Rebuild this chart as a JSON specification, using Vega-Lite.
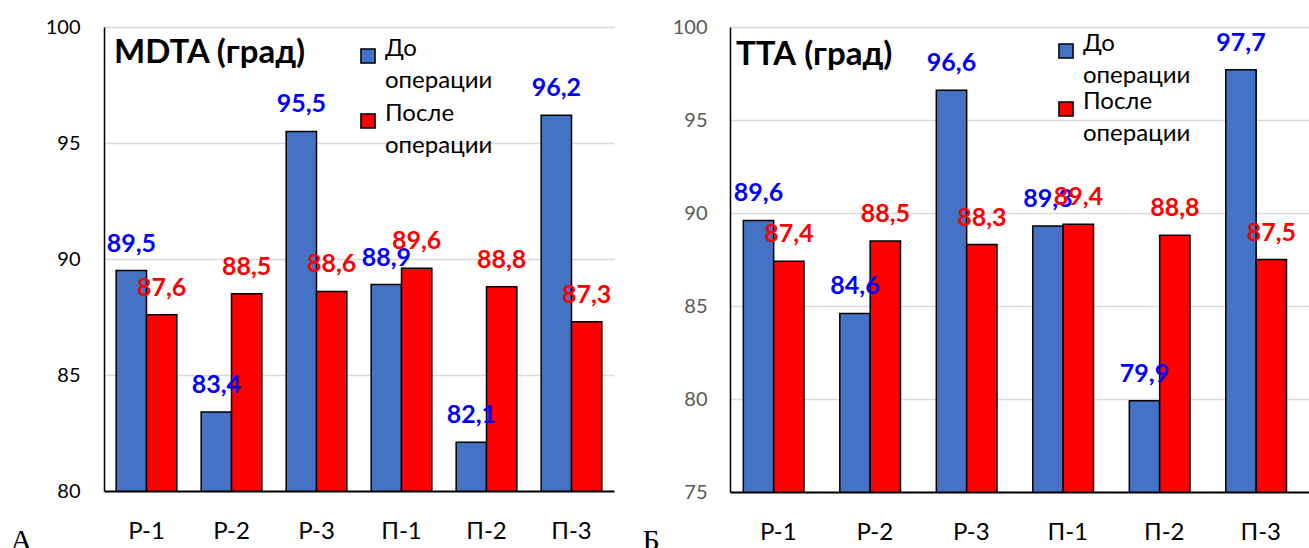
{
  "$schema": "https://vega.github.io/schema/vega-lite/v6.json",
  "padding": {"left": 10, "top": 17, "right": 0, "bottom": 0},
  "background": "white",
  "config": {
    "view": {"stroke": null},
    "locale": {"number": {"decimal": ",", "thousands": " ", "grouping": [3], "currency": ["", ""]}},
    "font": "Lato",
    "concat": {"spacing": 28},
    "style": {"guide-label": {"lineHeight": 32}}
  },
  "datasets": {
    "mdta": [
      {"group": "Р-1", "phase": "До операции", "value": 89.5},
      {"group": "Р-1", "phase": "После операции", "value": 87.6},
      {"group": "Р-2", "phase": "До операции", "value": 83.4},
      {"group": "Р-2", "phase": "После операции", "value": 88.5},
      {"group": "Р-3", "phase": "До операции", "value": 95.5},
      {"group": "Р-3", "phase": "После операции", "value": 88.6},
      {"group": "П-1", "phase": "До операции", "value": 88.9},
      {"group": "П-1", "phase": "После операции", "value": 89.6},
      {"group": "П-2", "phase": "До операции", "value": 82.1},
      {"group": "П-2", "phase": "После операции", "value": 88.8},
      {"group": "П-3", "phase": "До операции", "value": 96.2},
      {"group": "П-3", "phase": "После операции", "value": 87.3}
    ],
    "tta": [
      {"group": "Р-1", "phase": "До операции", "value": 89.6},
      {"group": "Р-1", "phase": "После операции", "value": 87.4},
      {"group": "Р-2", "phase": "До операции", "value": 84.6},
      {"group": "Р-2", "phase": "После операции", "value": 88.5},
      {"group": "Р-3", "phase": "До операции", "value": 96.6},
      {"group": "Р-3", "phase": "После операции", "value": 88.3},
      {"group": "П-1", "phase": "До операции", "value": 89.3},
      {"group": "П-1", "phase": "После операции", "value": 89.4},
      {"group": "П-2", "phase": "До операции", "value": 79.9},
      {"group": "П-2", "phase": "После операции", "value": 88.8},
      {"group": "П-3", "phase": "До операции", "value": 97.7},
      {"group": "П-3", "phase": "После операции", "value": 87.5}
    ]
  },
  "resolve": {
    "scale": {"x": "independent", "y": "independent", "color": "independent"},
    "legend": {"color": "independent"}
  },
  "hconcat": [
    {
      "width": 510,
      "height": 464,
      "title": {"text": "MDTA (град)", "anchor": "start", "frame": "group", "baseline": "alphabetic", "offset": 0, "dy": 79, "dx": 10, "font": "Lato", "fontSize": 33, "fontWeight": "bold", "color": "black"},
      "data": {"name": "mdta"},
      "encoding": {
        "x": {
          "field": "group", "type": "nominal", "sort": null,
          "scale": {"paddingInner": 0.286, "paddingOuter": 0.143},
          "axis": {
            "title": "А", "titleFont": "Liberation Serif", "titleFontSize": 30, "titleFontWeight": "normal",
            "titleColor": "black", "titleAlign": "left", "titleBaseline": "alphabetic", "titleAnchor": "start",
            "titleX": -94, "titleY": 58, "titleAngle": 0,
            "labelAngle": 0, "labelFont": "Lato", "labelFontSize": 24, "labelColor": "black", "labelPadding": 28,
            "ticks": false, "domainColor": "black", "domainWidth": 2, "grid": false, "zindex": 1
          }
        },
        "xOffset": {"field": "phase", "type": "nominal", "sort": ["До операции", "После операции"]},
        "y": {
          "field": "value", "type": "quantitative",
          "scale": {"domain": [80, 100], "zero": false, "nice": false},
          "axis": {
            "title": null, "values": [80, 85, 90, 95, 100], "labelFont": "Lato", "labelFontSize": 20, "labelColor": "black",
            "labelPadding": 24, "ticks": false, "domainColor": "black", "domainWidth": 1.5,
            "gridColor": "#d9d9d9", "gridWidth": 1.5
          }
        }
      },
      "layer": [
        {
          "mark": {"type": "bar", "stroke": "black", "strokeWidth": 1.5, "clip": true},
          "encoding": {
            "color": {
              "field": "phase", "type": "nominal",
              "scale": {"domain": ["До операции", "После операции"], "range": ["#4472c4", "#ff0000"]},
              "legend": {
                "title": null, "orient": "none", "legendX": 252, "legendY": 17, "padding": 0,
                "symbolType": "square", "symbolSize": 200, "symbolStrokeColor": "black", "symbolStrokeWidth": 1.5,
                "labelFont": "Lato", "labelFontSize": 24, "labelColor": "black", "labelOffset": 5, "labelLimit": 400,
                "labelBaseline": "alphabetic", "rowPadding": 9,
                "labelExpr": "split(datum.label, ' ')"
              }
            }
          }
        },
        {
          "mark": {"type": "text", "dy": -27, "baseline": "middle", "font": "Lato", "fontSize": 25, "fontWeight": "bold"},
          "encoding": {
            "text": {"field": "value", "type": "quantitative", "format": ".1f"},
            "color": {"condition": {"test": "datum.phase === 'До операции'", "value": "#0000ff"}, "value": "#ff0000"}
          }
        }
      ]
    },
    {
      "width": 579,
      "height": 465,
      "title": {"text": "ТТА (град)", "anchor": "start", "frame": "group", "baseline": "alphabetic", "offset": 0, "dy": 81, "dx": 6, "font": "Lato", "fontSize": 33, "fontWeight": "bold", "color": "black"},
      "data": {"name": "tta"},
      "encoding": {
        "x": {
          "field": "group", "type": "nominal", "sort": null,
          "scale": {"paddingInner": 0.276, "paddingOuter": 0.138},
          "axis": {
            "title": "Б", "titleFont": "Liberation Serif", "titleFontSize": 30, "titleFontWeight": "normal",
            "titleColor": "black", "titleAlign": "left", "titleBaseline": "alphabetic", "titleAnchor": "start",
            "titleX": -88, "titleY": 57, "titleAngle": 0,
            "labelAngle": 0, "labelFont": "Lato", "labelFontSize": 24, "labelColor": "black", "labelPadding": 28,
            "ticks": false, "domainColor": "black", "domainWidth": 2, "grid": false, "zindex": 1
          }
        },
        "xOffset": {"field": "phase", "type": "nominal", "sort": ["До операции", "После операции"]},
        "y": {
          "field": "value", "type": "quantitative",
          "scale": {"domain": [75, 100], "zero": false, "nice": false},
          "axis": {
            "title": null, "values": [75, 80, 85, 90, 95, 100], "labelFont": "Lato", "labelFontSize": 20, "labelColor": "#595959",
            "labelPadding": 23, "ticks": false, "domainColor": "black", "domainWidth": 1.5,
            "gridColor": "#d9d9d9", "gridWidth": 1.5
          }
        }
      },
      "layer": [
        {
          "mark": {"type": "bar", "stroke": "black", "strokeWidth": 1.5, "clip": true},
          "encoding": {
            "color": {
              "field": "phase", "type": "nominal",
              "scale": {"domain": ["До операции", "После операции"], "range": ["#4472c4", "#ff0000"]},
              "legend": {
                "title": null, "orient": "none", "legendX": 324, "legendY": 12, "padding": 0,
                "symbolType": "square", "symbolSize": 200, "symbolStrokeColor": "black", "symbolStrokeWidth": 1.5,
                "labelFont": "Lato", "labelFontSize": 24, "labelColor": "black", "labelOffset": 5, "labelLimit": 400,
                "labelBaseline": "alphabetic", "rowPadding": 2,
                "labelExpr": "split(datum.label, ' ')"
              }
            }
          }
        },
        {
          "mark": {"type": "text", "dy": -27, "baseline": "middle", "font": "Lato", "fontSize": 25, "fontWeight": "bold"},
          "encoding": {
            "text": {"field": "value", "type": "quantitative", "format": ".1f"},
            "color": {"condition": {"test": "datum.phase === 'До операции'", "value": "#0000ff"}, "value": "#ff0000"}
          }
        }
      ]
    }
  ]
}
